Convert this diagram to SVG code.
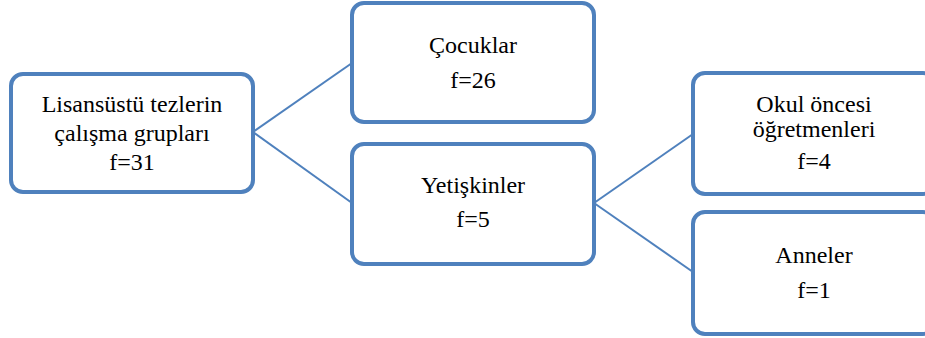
<svg xmlns="http://www.w3.org/2000/svg" width="925" height="338" viewBox="0 0 925 338">
<style>
.box{fill:#ffffff;stroke:#4F81BD;stroke-width:4}
.conn{stroke:#4F81BD;stroke-width:2;fill:none}
text{font-family:"Liberation Serif","Times New Roman",serif;font-size:24px;fill:#000;text-anchor:middle}
</style>
<rect width="925" height="338" fill="#ffffff"/>
<g id="connectors">
<line class="conn" x1="253" y1="132" x2="352" y2="63"/>
<line class="conn" x1="253" y1="132" x2="352" y2="203"/>
<line class="conn" x1="594" y1="203" x2="693" y2="134"/>
<line class="conn" x1="594" y1="203" x2="693" y2="272"/>
</g>
<g id="node-root">
<rect class="box" x="11" y="74" width="242" height="118" rx="12"/>
<text x="132" y="112">Lisansüstü tezlerin</text>
<text x="132" y="141">çalışma grupları</text>
<text x="132" y="170">f=31</text>
</g>
<g id="node-cocuklar">
<rect class="box" x="352" y="3" width="242" height="119" rx="12"/>
<text x="473" y="53">Çocuklar</text>
<text x="473" y="88">f=26</text>
</g>
<g id="node-yetiskinler">
<rect class="box" x="352" y="144" width="242" height="120" rx="12"/>
<text x="473" y="193">Yetişkinler</text>
<text x="473" y="227">f=5</text>
</g>
<g id="node-ogretmen">
<rect class="box" x="693" y="73" width="242" height="121" rx="12"/>
<text x="814" y="112">Okul öncesi</text>
<text x="814" y="137">öğretmenleri</text>
<text x="814" y="169">f=4</text>
</g>
<g id="node-anneler">
<rect class="box" x="693" y="212" width="242" height="122" rx="12"/>
<text x="814" y="263">Anneler</text>
<text x="814" y="298">f=1</text>
</g>
</svg>
